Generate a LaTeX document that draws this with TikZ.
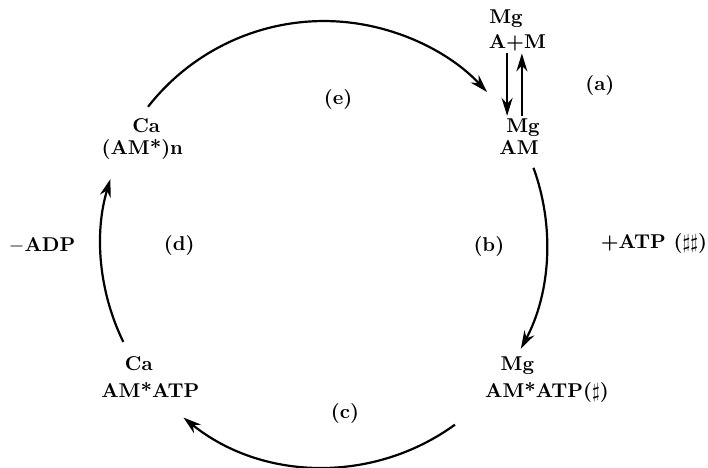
\documentclass[tikz,border=0pt]{standalone}
\usetikzlibrary{arrows.meta}

\begin{document}
\begin{tikzpicture}[
    lbl/.style={font=\bfseries, inner sep=1pt, anchor=base},
    tag/.style={font=\bfseries, inner sep=1pt},
    cyc/.style={line width=1.1pt, -{Stealth[length=9pt, width=5.5pt]}},
]
\useasboundingbox (0,0) rectangle (12.44,8.21);

% Centre of the cycle
\coordinate (o) at (5.69,3.92);

% Top right: dissociation
\node[lbl] (mgA) at (8.89,7.79) {Mg};
\node[lbl] (apm) at (9.09,7.36) {A+M};
\node[lbl] (mgAM) at (9.19,5.89) {Mg};
\node[lbl] (am) at (9.12,5.50) {AM};
\coordinate (dn) at (8.91,0);
\coordinate (up) at (9.17,0);
\draw[cyc] (apm.south -| dn) -- (mgAM.north -| dn);
\draw[cyc] (mgAM.north -| up) -- (apm.south -| up);
\node[tag] (la) at (10.54,6.71) {(a)};

% Top left
\node[lbl] (caN) at (2.57,5.89) {Ca};
\node[lbl] (amn) at (2.50,5.50) {(AM*)n};
\node[tag] (le) at (5.94,6.47) {(e)};

% Middle row
\node[tag] (adp) at (0.74,3.90) {$-$ADP};
\node[tag] (ld) at (3.15,3.90) {(d)};
\node[tag] (lb) at (8.59,3.88) {(b)};
\node[tag] (atp) at (11.49,3.94) {+ATP ($\sharp\sharp$)};

% Bottom row
\node[lbl] (caB) at (2.44,1.70) {Ca};
\node[lbl] (amatp) at (2.64,1.23) {AM*ATP};
\node[lbl] (mgB) at (9.09,1.70) {Mg};
\node[lbl] (amatpS) at (9.61,1.23) {AM*ATP($\sharp$)};
\node[tag] (lc) at (6.06,0.95) {(c)};

% Cycle arcs
\draw[cyc] ([shift={(142:3.92)}]o) arc[start angle=142, end angle=43, radius=3.92];
\draw[cyc] ([shift={(20:3.92)}]o) arc[start angle=20, end angle=-28, radius=3.92];
\draw[cyc] ([shift={(-54:3.92)}]o) arc[start angle=-54, end angle=-129, radius=3.92];
\draw[cyc] ([shift={(-154:3.92)}]o) arc[start angle=-154, end angle=-197, radius=3.92];

\end{tikzpicture}
\end{document}
